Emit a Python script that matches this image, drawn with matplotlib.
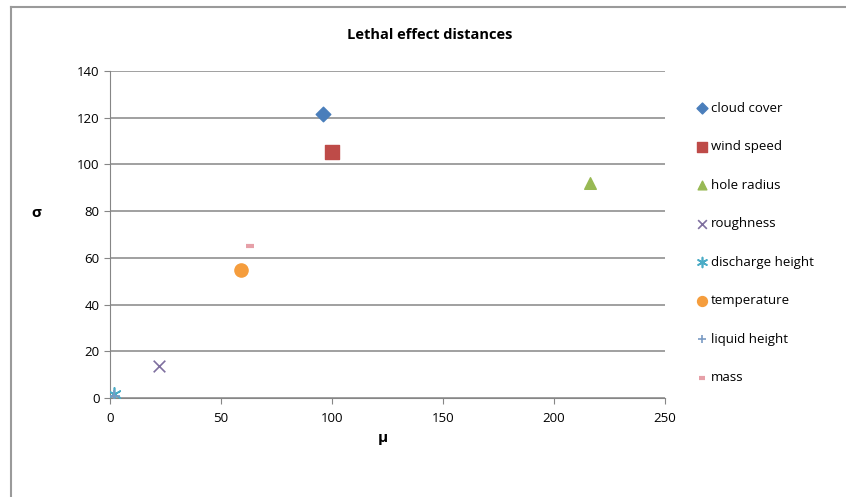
import matplotlib
matplotlib.use("Agg")
import matplotlib.pyplot as plt
from matplotlib.lines import Line2D

labels = ["cloud cover", "wind speed", "hole radius", "roughness",
          "discharge height", "temperature", "liquid height", "mass"]
mu = [96, 100, 216, 22, 2, 59, 2, 63]
sigma = [121.5, 105.5, 92, 13.5, 1.5, 55, 1, 65]

markers = ["D", "s", "^", "x", (6, 2, 0), "o", "+", "_"]
colors = ["#4a7ebb", "#be4b48", "#98b954", "#7f6f9f", "#4bacc6", "#f59d3d", "#7a9bc4", "#e6a0a8"]
sizes = [55, 90, 70, 70, 90, 90, 70, 40]

plt.rcParams['font.family'] = ['Open Sans', 'DejaVu Sans']

fig = plt.figure(figsize=(8.46, 4.97), dpi=100)
W, H = 846, 497
ax = fig.add_axes([110 / W, 1 - 398 / H, (665 - 110) / W, (398 - 71) / H])

for i in range(len(labels)):
    lw = 1.2 if markers[i] in ("x", "+") or isinstance(markers[i], tuple) else 0
    if markers[i] == "_":
        lw = 3
    ax.scatter(mu[i], sigma[i], marker=markers[i], s=sizes[i], c=colors[i],
               linewidths=lw if lw else None, label=labels[i], zorder=3)

ax.set_xlim(0, 250)
ax.set_ylim(0, 140)
ax.set_xticks([0, 50, 100, 150, 200, 250])
ax.set_yticks(range(0, 141, 20))
ax.yaxis.grid(True, color="#868686", linewidth=1.1)
ax.set_axisbelow(True)
for s in ["top", "right"]:
    ax.spines[s].set_visible(False)
for s in ["left", "bottom"]:
    ax.spines[s].set_color("#868686")
ax.tick_params(axis="both", colors="#868686", labelcolor="black", labelsize=9.5, length=4)
ax.tick_params(axis="x", pad=6)

fig.text(430 / W, 1 - 35 / H, "Lethal effect distances", ha="center", va="center",
         fontsize=10.5, fontweight="bold")
fig.text(36 / W, 1 - 213 / H, "σ", ha="center", va="center", fontsize=11, fontweight="bold")
fig.text(383 / W, 1 - 438 / H, "μ", ha="center", va="center", fontsize=11, fontweight="bold")

leg = ax.legend(loc="upper left", bbox_to_anchor=(682 / W, 1 - 90 / H),
                bbox_transform=fig.transFigure, frameon=False, fontsize=9.5,
                labelspacing=1.93, handletextpad=0.1, handlelength=1.2,
                scatterpoints=1, markerscale=0.75)

fig.add_artist(Line2D([10.5 / W, 10.5 / W], [0, 1 - 6.5 / H], transform=fig.transFigure,
                      color="#9a9a9a", linewidth=1.5))
fig.add_artist(Line2D([10.5 / W, 1], [1 - 6.5 / H, 1 - 6.5 / H], transform=fig.transFigure,
                      color="#9a9a9a", linewidth=1.5))

fig.savefig("out.png", dpi=100)
